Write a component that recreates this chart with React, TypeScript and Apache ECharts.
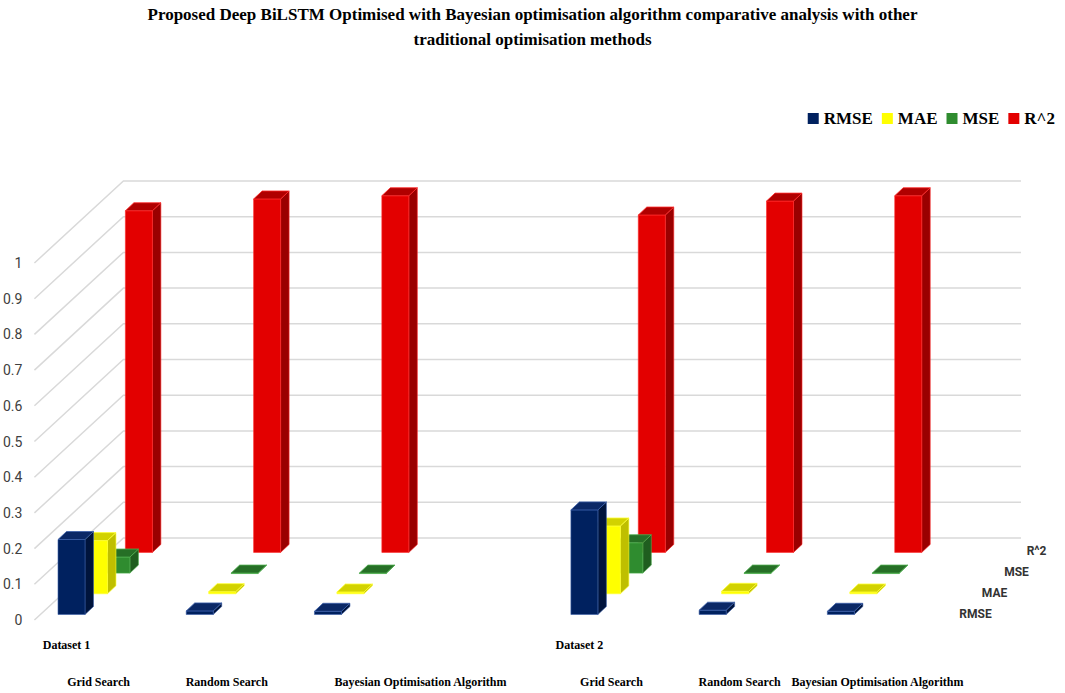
import React, { useEffect, useRef } from "react";
import * as echarts from "echarts";

// ---- data ----
const categories = [
  "Grid Search",
  "Random Search",
  "Bayesian Optimisation Algorithm",
  "",
  "Grid Search",
  "Random Search",
  "Bayesian Optimisation Algorithm",
];
const groups = ["Dataset 1", "", "", "", "Dataset 2", "", ""];
const metrics = ["RMSE", "MAE", "MSE", "R^2"];
const rmse = [0.21, 0.01, 0.009, null, 0.293, 0.012, 0.009];
const mae = [0.149, 0.006, 0.005, null, 0.19, 0.007, 0.005];
const mse = [0.045, 0.0001, 0.0001, null, 0.085, 0.00014, 0.00008];
const r2 = [0.957, 0.99, 0.999, null, 0.945, 0.984, 0.999];
const yTicks = [0, 0.1, 0.2, 0.3, 0.4, 0.5, 0.6, 0.7, 0.8, 0.9, 1];

const TITLE =
  "Proposed Deep BiLSTM Optimised with Bayesian optimisation algorithm comparative analysis with other\ntraditional optimisation methods";

// ---- pseudo-3D geometry (pixels) ----
const K = 1.085; // x shift per pixel of depth (y)
const ROW0 = 5.5;
const ROW_STEP = 20.7;
const BACK_DY = 82;
const BAR_W = 27;
const BAR_OFFSET = -46.5;
const CAP_DX = 8.5;
const CAP_DY = 8;

const palette = [
  { front: "#00215f", side: "#00143c", top: "#0b2866", edge: "#3a5ea8" },
  { front: "#ffff00", side: "#bfbf00", top: "#d2d200", edge: "#ffff33" },
  { front: "#2f8c2f", side: "#1f5e1f", top: "#266f26", edge: "#4fae4f" },
  { front: "#e30000", side: "#9a0000", top: "#b00000", edge: "#ff2a2a" },
];

const seriesValues = [rmse, mae, mse, r2];

function barRender(row: number) {
  const c = palette[row];
  return (params: any, api: any) => {
    const i = api.value(0);
    const v = api.value(1);
    const base = api.coord([i, 0]);
    const top = api.coord([i, v]);
    const d = ROW0 + ROW_STEP * row;
    const x = base[0] + BAR_OFFSET + d * K;
    const yb = base[1] - d;
    const yt = top[1] - d;
    const w = BAR_W;
    return {
      type: "group",
      children: [
        {
          type: "polygon",
          shape: {
            points: [
              [x + w, yb],
              [x + w, yt],
              [x + w + CAP_DX, yt - CAP_DY],
              [x + w + CAP_DX, yb - CAP_DY],
            ],
          },
          style: { fill: c.side, stroke: c.edge, lineWidth: 0.6 },
        },
        {
          type: "rect",
          shape: { x, y: yt, width: w, height: Math.max(yb - yt, 0.5) },
          style: { fill: c.front, stroke: c.edge, lineWidth: 0.6 },
        },
        {
          type: "polygon",
          shape: {
            points: [
              [x, yt],
              [x + w, yt],
              [x + w + CAP_DX, yt - CAP_DY],
              [x + CAP_DX, yt - CAP_DY],
            ],
          },
          style: { fill: c.top, stroke: c.edge, lineWidth: 0.8 },
        },
      ],
    };
  };
}

export default function App() {
  const ref = useRef<HTMLDivElement>(null);
  useEffect(() => {
    if (!ref.current) return;
    const chart = echarts.init(ref.current, null, { renderer: "svg" });

    const wallSeries = {
      type: "custom",
      name: "walls",
      coordinateSystem: "cartesian2d",
      xAxisIndex: 0,
      yAxisIndex: 0,
      silent: true,
      clip: false,
      z: 0,
      data: yTicks.map((v) => [0, v]),
      renderItem: (params: any, api: any) => {
        const cs = params.coordSys;
        const y = api.coord([0, api.value(1)])[1];
        const x0 = cs.x;
        const bx = cs.x + BACK_DY * K;
        const by = y - BACK_DY;
        const ex = cs.x + cs.width + BACK_DY * K;
        return {
          type: "polyline",
          shape: { points: [[x0, y], [bx, by], [ex, by]] },
          style: { stroke: "#d9d9d9", lineWidth: 1.5, fill: "none" },
        };
      },
    };

    const depthLabelSeries = {
      type: "custom",
      name: "depthLabels",
      coordinateSystem: "cartesian2d",
      silent: true,
      clip: false,
      z: 10,
      data: metrics.map((m, r) => [0, 0, r]),
      renderItem: (params: any, api: any) => {
        const cs = params.coordSys;
        const r = api.value(2);
        const d = ROW0 + ROW_STEP * r + 4;
        const x = cs.x + cs.width + d * K + 17;
        const y = cs.y + cs.height - d + 3;
        return {
          type: "text",
          style: {
            x,
            y,
            text: metrics[r],
            fontFamily: "Roboto",
            fontWeight: "bold",
            fontSize: 12,
            fill: "#333333",
            align: "left",
            verticalAlign: "middle",
          },
        };
      },
    };

    const barSeries = metrics.map((m, row) => ({
      type: "custom",
      name: m,
      coordinateSystem: "cartesian2d",
      clip: false,
      z: 5 - row,
      itemStyle: { color: palette[row].front },
      data: seriesValues[row]
        .map((v, i) => (v === null ? null : [i, v]))
        .filter((d) => d !== null),
      renderItem: barRender(row),
    }));

    chart.setOption({
      animation: false,
      backgroundColor: "#ffffff",
      title: {
        text: TITLE,
        left: "center",
        top: -3,
        textStyle: {
          fontFamily: "Liberation Serif",
          fontWeight: "bold",
          fontSize: 17,
          lineHeight: 25,
          color: "#000000",
        },
      },
      legend: {
        data: metrics,
        right: 5,
        top: 105,
        icon: "rect",
        itemWidth: 11,
        itemHeight: 11,
        itemGap: 9,
        textStyle: {
          fontFamily: "Liberation Serif",
          fontWeight: "bold",
          fontSize: 17,
          color: "#000000",
        },
      },
      grid: { left: 29, right: 133, top: 263, bottom: 73, containLabel: false },
      xAxis: [
        {
          type: "category",
          data: categories,
          position: "bottom",
          axisLine: { show: false },
          axisTick: { show: false },
          splitLine: { show: false },
          axisLabel: {
            interval: 0,
            margin: 56,
            color: "#000000",
            fontFamily: "Liberation Serif",
            fontWeight: "bold",
            fontSize: 12,
            formatter: (val: string, idx: number) =>
              idx === 2 ? `{s1|${val}}` : idx === 6 ? `{s2|${val}}` : `{n|${val}}`,
            rich: {
              n: { fontFamily: "Liberation Serif", fontWeight: "bold", fontSize: 12, color: "#000" },
              s1: { fontFamily: "Liberation Serif", fontWeight: "bold", fontSize: 12, color: "#000", padding: [0, 0, 0, 131] },
              s2: { fontFamily: "Liberation Serif", fontWeight: "bold", fontSize: 12, color: "#000", padding: [0, 0, 0, 19] },
            },
          },
        },
        {
          type: "category",
          data: groups,
          position: "bottom",
          offset: 0,
          axisLine: { show: false },
          axisTick: { show: false },
          splitLine: { show: false },
          axisLabel: {
            interval: 0,
            margin: 19,
            formatter: (val: string) => (val ? `{g|${val}}` : ""),
            rich: {
              g: { fontFamily: "Liberation Serif", fontWeight: "bold", fontSize: 12, color: "#000", padding: [0, 64, 0, 0] },
            },
          },
        },
      ],
      yAxis: {
        type: "value",
        min: 0,
        max: 1,
        interval: 0.1,
        axisLine: { show: false },
        axisTick: { show: false },
        splitLine: { show: false },
        axisLabel: {
          margin: 12,
          color: "#404040",
          fontFamily: "Roboto",
          fontSize: 14,
        },
      },
      series: [wallSeries, ...barSeries, depthLabelSeries],
    });

    return () => chart.dispose();
  }, []);

  return (
    <div
      ref={ref}
      style={{ position: "fixed", left: 0, top: 0, width: 1065, height: 693, background: "#fff" }}
    />
  );
}
